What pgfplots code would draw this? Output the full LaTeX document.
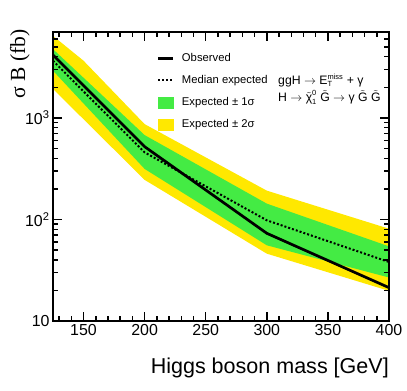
\documentclass[border=0pt]{standalone}
\usepackage{pgfplots}
\pgfplotsset{compat=1.18}
\usepackage{fontspec}
\setmainfont{Liberation Sans}
\newfontfamily\seriffont{Liberation Serif}
\definecolor{cmsgreen}{RGB}{68,235,68}
\definecolor{cmsyellow}{RGB}{255,232,0}

% lines
\pgfplotstableread{
m     exp   obs
125   3650  4150
150   1820  2075
200   457   520
300   98    73
400   38.1  21.3
}\cmslines
% 2 sigma band: upper edge then lower edge reversed
\pgfplotstableread{
m     y
125   6410
150   3650
200   867
300   192
400   81
400   19.8
300   46
200   245
150   968
125   1925
}\cmsyellowband
% 1 sigma band
\pgfplotstableread{
m     y
125   4740
150   2480
200   676
300   143
400   54.3
400   26.8
300   55.6
200   314
150   1385
125   2910
}\cmsgreenband

\begin{document}
\begin{tikzpicture}
\useasboundingbox (-53bp,-70bp) rectangle (354bp,321bp);
\begin{axis}[
  at={(0,0)}, anchor=south west,
  scale only axis, width=336bp, height=289bp,
  axis on top,
  ymode=log, xmin=125, xmax=400, ymin=10, ymax=7000,
  xtick={150,200,250,300,350,400},
  xticklabels={150,200,250,300,350,400},
  minor xtick={130,140,160,170,180,190,210,220,230,240,260,270,280,290,310,320,330,340,360,370,380,390},
  ytick={10,100,1000},
  yticklabels={10,10\textsuperscript{2},10\textsuperscript{3}},
  minor ytick={20,30,40,50,60,70,80,90,200,300,400,500,600,700,800,900,2000,3000,4000,5000,6000,7000},
  xtick align=inside, ytick align=inside,
  xtick pos=both, ytick pos=both,
  major tick length=9bp, minor tick length=5bp,
  xtick style={draw=black, line width=1.5bp},
  ytick style={draw=black, line width=1.5bp},
  axis line style={line width=1.6bp},
  tick label style={font=\fontsize{16}{18}\selectfont},
  xlabel={Higgs boson mass [GeV]},
  xlabel style={at={(axis description cs:1,-0.18)}, anchor=base east, inner sep=0pt, font=\fontsize{21.6}{24}\selectfont},
  ylabel={\seriffont σ B (fb)},
  ylabel style={at={(axis description cs:-0.0833,1.0104)}, anchor=base east, inner sep=0pt, font=\fontsize{21.6}{24}\selectfont},
  legend style={at={(axis description cs:0.3095,0.9266)}, anchor=north west, draw=none, fill=none,
    inner sep=0pt, outer sep=0pt, row sep=10.7bp, column sep=7.3bp,
    font=\fontsize{11.3}{13}\selectfont,
    nodes={inner sep=0pt, text height=8.5bp, text depth=2.5bp}},
  legend cell align=left,
]
\addplot[fill=cmsyellow, draw=none, forget plot] table[x=m, y=y] {\cmsyellowband} -- cycle;
\addplot[fill=cmsgreen, draw=none, forget plot] table[x=m, y=y] {\cmsgreenband} -- cycle;
\addplot[black, line width=2bp, dash pattern=on 2bp off 2bp, forget plot] table[x=m, y=exp] {\cmslines};
\addplot[black, line width=2.7bp, forget plot] table[x=m, y=obs] {\cmslines};

\addlegendimage{legend image code/.code={\draw[black, line width=2.7bp] (0bp,0bp) -- (15bp,0bp);}}
\addlegendentry{Observed}
\addlegendimage{legend image code/.code={\draw[black, line width=2bp, dash pattern=on 2bp off 2bp] (0bp,0bp) -- (15bp,0bp);}}
\addlegendentry{Median expected}
\addlegendimage{legend image code/.code={\fill[cmsgreen] (0bp,-5.5bp) rectangle (15bp,5.5bp);}}
\addlegendentry{Expected ± 1σ}
\addlegendimage{legend image code/.code={\fill[cmsyellow] (0bp,-5.5bp) rectangle (15bp,5.5bp);}}
\addlegendentry{Expected ± 2σ}

\node[anchor=base west, inner sep=0pt, font=\fontsize{12.3}{14}\selectfont] at (axis description cs:0.6696,0.820)
  {ggH $\rightarrow$ E$^{\mbox{\fontsize{7.5}{8}\selectfont miss}}_{\mbox{\fontsize{7.5}{8}\selectfont T}}$ + γ};
\node[anchor=base west, inner sep=0pt, font=\fontsize{12.3}{14}\selectfont] at (axis description cs:0.6696,0.7595)
  {H $\rightarrow$ $\tilde{\mbox{χ}}^{\mbox{\fontsize{7.5}{8}\selectfont 0}}_{\mbox{\fontsize{7.5}{8}\selectfont 1}}$ $\tilde{\mbox{G}}$ $\rightarrow$ γ $\tilde{\mbox{G}}$ $\tilde{\mbox{G}}$};
\node[anchor=base west, inner sep=0pt, font=\fontsize{11}{13}\bfseries] at (axis description cs:-0.0179,1.0156) {CMS};
\node[anchor=base east, inner sep=0pt, font=\fontsize{11}{13}\selectfont] at (axis description cs:0.994,1.0156) {7.4 fb\textsuperscript{-1} (8 TeV)};
\end{axis}
\end{tikzpicture}
\end{document}
